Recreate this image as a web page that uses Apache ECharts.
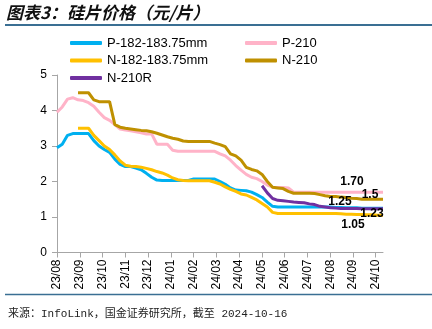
<!DOCTYPE html>
<html>
<head>
<meta charset="utf-8">
<script src="https://cdn.jsdelivr.net/npm/echarts@6/dist/echarts.min.js"></script>
<style>
  html, body { margin: 0; padding: 0; background: #fff; }
  #chart { width: 432px; height: 329px; }
</style>
</head>
<body>
<div id="chart"></div>
<script>
// Month tick labels (weekly price points, 23/08 – 24/10)
const monthLabels = ['23/08','23/09','23/10','23/11','23/12','24/01','24/02','24/03',
                     '24/04','24/05','24/06','24/07','24/08','24/09','24/10'];
const WEEKS_PER_MONTH = 4.33;

const seriesNames = ['P-182-183.75mm', 'P-210', 'N-182-183.75mm', 'N-210', 'N-210R'];

// Weekly wafer prices, 元/片 (null = not quoted yet)
const p182 = [2.95,3.05,3.30,3.35,3.35,3.35,3.35,3.15,3.00,2.90,2.82,2.63,2.48,2.42,2.42,2.38,
              2.33,2.23,2.12,2.04,2.03,2.03,2.03,2.03,2.03,2.03,2.07,2.07,2.07,2.07,2.07,2.00,
              1.92,1.82,1.76,1.75,1.74,1.70,1.63,1.55,1.42,1.30,1.28,1.28,1.28,1.28,1.28,1.28,
              1.28,1.28,1.28,1.28,1.28,1.27,1.27,1.26,1.26,1.26,1.25,1.25,1.25,1.25,1.25];
const p210 = [3.95,4.10,4.32,4.36,4.30,4.28,4.22,4.12,3.95,3.80,3.72,3.60,3.48,3.45,3.43,3.40,
              3.37,3.34,3.34,3.05,3.05,3.05,2.88,2.85,2.85,2.85,2.85,2.85,2.85,2.85,2.85,2.78,
              2.72,2.60,2.45,2.32,2.20,2.12,2.08,2.00,1.90,1.84,1.83,1.83,1.82,1.70,1.70,1.70,
              1.70,1.70,1.70,1.70,1.70,1.70,1.70,1.70,1.70,1.70,1.70,1.70,1.70,1.70,1.70];
const n182 = [null,null,null,null,3.50,3.50,3.50,3.30,3.15,3.00,2.90,2.75,2.58,2.46,2.43,2.42,
              2.40,2.37,2.33,2.28,2.24,2.18,2.10,2.05,2.03,2.02,2.02,2.02,2.02,2.02,1.98,1.93,
              1.85,1.78,1.72,1.65,1.62,1.55,1.48,1.38,1.28,1.13,1.10,1.10,1.10,1.10,1.10,1.10,
              1.10,1.10,1.10,1.10,1.10,1.10,1.09,1.08,1.08,1.07,1.07,1.06,1.06,1.05,1.05];
const n210 = [null,null,null,null,4.50,4.50,4.50,4.30,4.25,4.25,4.25,3.60,3.53,3.50,3.48,3.46,
              3.44,3.43,3.40,3.36,3.31,3.26,3.22,3.19,3.14,3.13,3.13,3.13,3.13,3.13,3.08,3.04,
              2.98,2.78,2.72,2.60,2.40,2.34,2.30,2.20,2.00,1.84,1.82,1.80,1.72,1.67,1.67,1.67,
              1.67,1.66,1.63,1.60,1.58,1.58,1.56,1.55,1.53,1.52,1.50,1.50,1.50,1.50,1.50];
const n210r = [null,null,null,null,null,null,null,null,null,null,null,null,null,null,null,null,
               null,null,null,null,null,null,null,null,null,null,null,null,null,null,null,null,
               null,null,null,null,null,null,null,1.88,1.68,1.52,1.47,1.46,1.44,1.42,1.41,1.40,
               1.37,1.35,1.30,1.28,1.26,1.25,1.24,1.24,1.24,1.24,1.23,1.23,1.23,1.23,1.23];

const seriesValues = [p182, p210, n182, n210, n210r];
const colors = ['#00B0F0', '#FFB3C8', '#FFC000', '#BF9000', '#7030A0'];
// decimals shown in the end-of-line value labels
const endDecimals = [2, 2, 2, 1, 2];
// end-label offsets (px) relative to the last point
const endOffsets = [[-43, -6], [-31, -10], [-30, 9], [-13, -5], [-11, 5]];

const lastWeek = p182.length - 1;
const monthTicks = monthLabels.map((_, i) => i * WEEKS_PER_MONTH);
const axisColor = '#A6A6A6';
const latin = '"Liberation Sans", Arial, sans-serif';

const series = seriesValues.map((vals, s) => ({
  name: seriesNames[s],
  type: 'line',
  color: colors[s],
  lineStyle: { width: 3, color: colors[s] },
  showSymbol: true,
  symbol: 'circle',
  symbolSize: 0,
  emphasis: { disabled: true },
  data: vals.map((v, i) => {
    if (i === lastWeek) {
      return {
        value: [i, v],
        label: {
          show: true,
          position: 'inside',
          offset: endOffsets[s],
          formatter: p => p.value[1].toFixed(endDecimals[s]),
          fontFamily: latin,
          fontSize: 12,
          fontWeight: 'bold',
          color: '#000'
        }
      };
    }
    return [i, v];
  })
}));

const chart = echarts.init(document.getElementById('chart'), null, { renderer: 'canvas' });
chart.setOption({
  animation: false,
  backgroundColor: '#fff',
  grid: { left: 57, right: 49, top: 75, bottom: 76.5, containLabel: false },
  legend: [
    {
      data: [seriesNames[0], seriesNames[2], seriesNames[4]],
      orient: 'vertical', left: 70, top: 36.5, padding: 0,
      itemWidth: 32, itemHeight: 4, itemGap: 4.5, icon: 'roundRect',
      textStyle: { fontFamily: latin, fontSize: 13, lineHeight: 13, color: '#000' }
    },
    {
      data: [seriesNames[1], seriesNames[3]],
      orient: 'vertical', left: 245, top: 36.5, padding: 0,
      itemWidth: 32, itemHeight: 4, itemGap: 4.5, icon: 'roundRect',
      textStyle: { fontFamily: latin, fontSize: 13, lineHeight: 13, color: '#000' }
    }
  ],
  xAxis: {
    type: 'value',
    min: 0,
    max: lastWeek,
    splitLine: { show: false },
    axisLine: { show: true, lineStyle: { color: axisColor, width: 1 } },
    axisTick: { show: true, length: 5, customValues: monthTicks, lineStyle: { color: axisColor } },
    axisLabel: {
      customValues: monthTicks,
      rotate: 90,
      margin: 7,
      fontFamily: latin,
      fontSize: 12,
      color: '#000',
      formatter: v => monthLabels[Math.round(v / WEEKS_PER_MONTH)] || ''
    }
  },
  yAxis: {
    type: 'value',
    min: 0,
    max: 5,
    interval: 1,
    splitLine: { show: false },
    axisLine: { show: true, lineStyle: { color: axisColor, width: 1 } },
    axisTick: { show: true, length: 5, lineStyle: { color: axisColor } },
    axisLabel: { margin: 10, fontFamily: latin, fontSize: 12, color: '#000' }
  },
  graphic: [
    {
      type: 'text', left: 6, top: 4,
      style: {
        text: '图表3：硅片价格（元/片）',
        font: 'italic bold 17px "Noto Sans CJK SC", sans-serif',
        fill: '#111'
      }
    },
    {
      type: 'line', shape: { x1: 5, y1: 25, x2: 432, y2: 25 },
      style: { stroke: '#3A6F93', lineWidth: 2 }
    },
    {
      type: 'line', shape: { x1: 5, y1: 294.5, x2: 432, y2: 294.5 },
      style: { stroke: '#3A6F93', lineWidth: 1.5 }
    },
    {
      type: 'text', left: 8, top: 309,
      style: {
        text: '来源：InfoLink，国金证券研究所，截至 2024-10-16',
        font: '11px "Liberation Mono", "Noto Sans CJK SC", monospace',
        fill: '#222'
      }
    }
  ],
  series: series
});
</script>
</body>
</html>
